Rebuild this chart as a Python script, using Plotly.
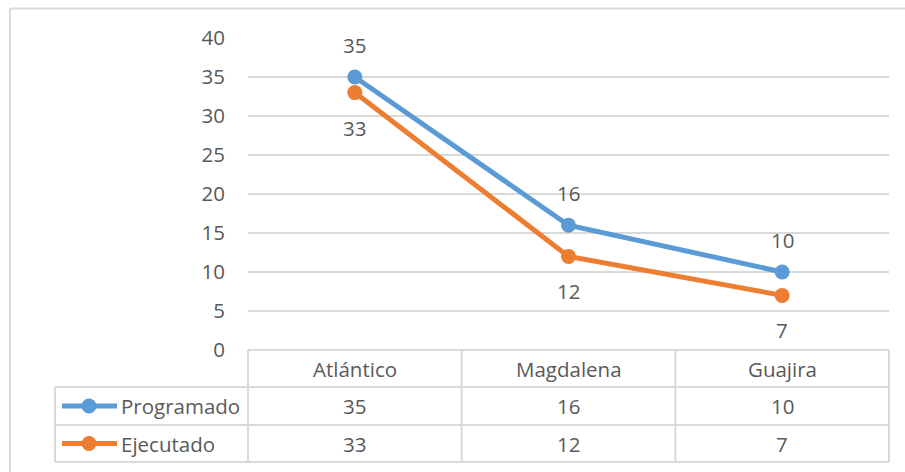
import plotly.graph_objects as go

# Data
categories = ["Atlántico", "Magdalena", "Guajira"]
programado = [35, 16, 10]
ejecutado = [33, 12, 7]
series_names = ["Programado", "Ejecutado"]
y_ticks = [0, 5, 10, 15, 20, 25, 30, 35, 40]

W, H = 905, 472
BLUE = "#5B9BD5"
ORANGE = "#ED7D31"
GRID = "#D9D9D9"
TEXT = "#595959"
FONT = "Open Sans"
FS = 20.5


def px(x):
    return x / W


def py(y):
    return 1 - y / H


# plot area in pixels
X0, X1 = 248, 889
Y_TOP, Y_ZERO = 38, 350

fig = go.Figure()

for name, vals, color in [(series_names[0], programado, BLUE),
                          (series_names[1], ejecutado, ORANGE)]:
    fig.add_trace(go.Scatter(
        x=categories, y=vals, name=name, mode="lines+markers",
        line=dict(color=color, width=5),
        marker=dict(color=color, size=15),
        showlegend=False, cliponaxis=False,
    ))

annotations = []
# data labels: Programado above, Ejecutado below
for c, v in zip(categories, programado):
    annotations.append(dict(x=c, y=v, xref="x", yref="y", text=str(v),
                            showarrow=False, yshift=32,
                            font=dict(family=FONT, size=FS, color=TEXT)))
for c, v in zip(categories, ejecutado):
    annotations.append(dict(x=c, y=v, xref="x", yref="y", text=str(v),
                            showarrow=False, yshift=-35,
                            font=dict(family=FONT, size=FS, color=TEXT)))

shapes = []
# outer chart border (top and left)
shapes.append(dict(type="line", xref="paper", yref="paper",
                   x0=px(10), x1=px(905), y0=py(8.5), y1=py(8.5),
                   line=dict(color=GRID, width=2)))
shapes.append(dict(type="line", xref="paper", yref="paper",
                   x0=px(10), x1=px(10), y0=py(8.5), y1=py(472),
                   line=dict(color=GRID, width=2)))

# data table below the plot
col_w = (X1 - X0) / len(categories)
row_top = [350, 387, 425]
row_bot = 462
LEG_X0 = 55
line_style = dict(color=GRID, width=2)

# horizontal rules
shapes.append(dict(type="line", xref="paper", yref="paper",
                   x0=px(X0), x1=px(X1), y0=py(row_top[0]), y1=py(row_top[0]), line=line_style))
for yy in row_top[1:] + [row_bot]:
    shapes.append(dict(type="line", xref="paper", yref="paper",
                       x0=px(LEG_X0), x1=px(X1), y0=py(yy), y1=py(yy), line=line_style))
# vertical rules
shapes.append(dict(type="line", xref="paper", yref="paper",
                   x0=px(LEG_X0), x1=px(LEG_X0), y0=py(row_top[1]), y1=py(row_bot), line=line_style))
for i in range(len(categories) + 1):
    xx = X0 + i * col_w
    shapes.append(dict(type="line", xref="paper", yref="paper",
                       x0=px(xx), x1=px(xx), y0=py(row_top[0]), y1=py(row_bot), line=line_style))


def cell_text(x, y, text, xanchor="center"):
    return dict(x=x, y=y, xref="paper", yref="paper", text=text, showarrow=False,
                xanchor=xanchor, yanchor="middle",
                font=dict(family=FONT, size=FS, color=TEXT))


# header row: category names
for i, c in enumerate(categories):
    annotations.append(cell_text(px(X0 + (i + 0.5) * col_w),
                                 py((row_top[0] + row_top[1]) / 2), c))

# series rows with legend keys
rows = [(series_names[0], programado, BLUE), (series_names[1], ejecutado, ORANGE)]
row_bounds = [(row_top[1], row_top[2]), (row_top[2], row_bot)]
for (name, vals, color), (ya, yb) in zip(rows, row_bounds):
    yc = (ya + yb) / 2
    shapes.append(dict(type="line", xref="paper", yref="paper",
                       x0=px(62), x1=px(117), y0=py(yc), y1=py(yc),
                       line=dict(color=color, width=5)))
    shapes.append(dict(type="circle", xref="paper", yref="paper",
                       x0=px(81.5), x1=px(96.5), y0=py(yc - 7.5), y1=py(yc + 7.5),
                       fillcolor=color, line=dict(color=color, width=0)))
    annotations.append(cell_text(px(119), py(yc), name, xanchor="left"))
    for i, v in enumerate(vals):
        annotations.append(cell_text(px(X0 + (i + 0.5) * col_w), py(yc), str(v)))

fig.update_layout(
    template="none",
    width=W, height=H,
    margin=dict(l=0, r=0, t=0, b=0, pad=0, autoexpand=False),
    paper_bgcolor="white", plot_bgcolor="white",
    font=dict(family=FONT, size=FS, color=TEXT),
    xaxis=dict(domain=[px(X0), px(X1)], range=[-0.5, 2.5], type="category",
               showgrid=False, showticklabels=False, zeroline=False, showline=False,
               ticks="", automargin=False),
    yaxis=dict(domain=[py(Y_ZERO), py(Y_TOP)], range=[0, 40],
               tickvals=y_ticks, ticktext=[str(t) for t in y_ticks],
               showgrid=True, gridcolor=GRID, gridwidth=2,
               zeroline=False, showline=False, ticks="", automargin=False,
               ticklabelstandoff=22,
               tickfont=dict(family=FONT, size=FS, color=TEXT)),
    shapes=shapes,
    annotations=annotations,
)

fig.write_html("out.html")
